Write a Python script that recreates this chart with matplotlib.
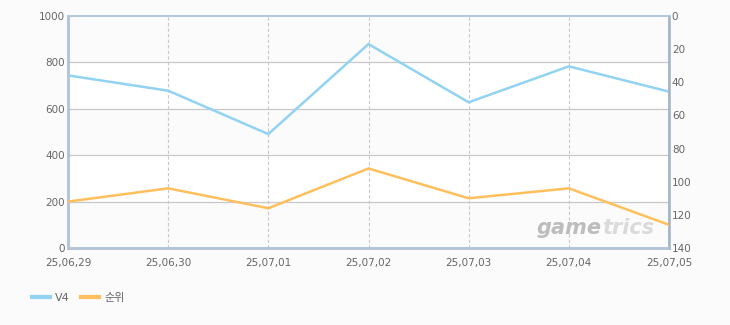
import matplotlib.pyplot as plt
from matplotlib.lines import Line2D

dates = ['25,06,29', '25,06,30', '25,07,01', '25,07,02', '25,07,03', '25,07,04', '25,07,05']
v4 = [744, 678, 491, 879, 628, 783, 674]
rank = [112, 104, 116, 92, 110, 104, 126]

left_ticks = [0, 200, 400, 600, 800, 1000]
right_ticks = [0, 20, 40, 60, 80, 100, 120, 140]

blue = '#92d2f2'
orange = '#ffbf5c'
text_c = '#666666'
grid_c = '#c8c8c8'

plt.rcParams['font.family'] = ['DejaVu Sans', 'Noto Sans CJK KR']

fig = plt.figure(figsize=(7.3, 3.25), dpi=100)
fig.patch.set_facecolor('#fbfbfb')
ax = fig.add_axes([68 / 730, 1 - 248 / 325, 601 / 730, 232 / 325])
ax.set_facecolor('#fbfbfb')

x = list(range(len(dates)))

# alternating bands
for i in range(len(left_ticks) - 1):
    if i % 2 == 1:
        ax.axhspan(left_ticks[i], left_ticks[i + 1], color='white', zorder=0)

for t in left_ticks[1:-1]:
    ax.axhline(t, color=grid_c, lw=0.9, zorder=1)
for xi in x[1:-1]:
    ax.axvline(xi, color=grid_c, lw=0.8, ls=(0, (3, 2)), zorder=1)

ax.plot(x, v4, color=blue, lw=1.8, zorder=3, solid_joinstyle='miter')
ax.set_xlim(0, len(dates) - 1)
ax.set_ylim(0, 1000)
ax.set_yticks(left_ticks)
ax.set_xticks(x)
ax.set_xticklabels(dates)

ax2 = ax.twinx()
ax2.plot(x, rank, color=orange, lw=1.8, zorder=3, solid_joinstyle='miter')
ax2.set_ylim(140, 0)
ax2.set_yticks(right_ticks)

for a in (ax, ax2):
    a.tick_params(length=0, labelsize=7.5, labelcolor=text_c, pad=2)
    for s in a.spines.values():
        s.set_color('#b4c8dc')
        s.set_linewidth(1.2)
ax.tick_params(axis='x', pad=7)
ax.spines['left'].set_color('#a4b4c8')
ax.spines['bottom'].set_color('#a4b4c8')
ax.spines['left'].set_linewidth(1.8)
ax.spines['bottom'].set_linewidth(1.8)
ax2.spines['right'].set_linewidth(1.8)
ax2.spines['right'].set_color('#a4b4c8')

# watermark
ax.text(0.888, 0.045, 'game', transform=ax.transAxes, fontsize=15, style='italic',
        weight='bold', color='#bdbdbd', ha='right', va='bottom', zorder=2)
ax.text(0.888, 0.045, 'trics', transform=ax.transAxes, fontsize=15, style='italic',
        weight='bold', color='#dadada', ha='left', va='bottom', zorder=2)

# legend
handles = [Line2D([], [], color=blue, lw=3), Line2D([], [], color=orange, lw=3)]
fig.legend(handles, ['V4', '순위'], loc='center left', bbox_to_anchor=(22 / 730, 1 - 298 / 325),
           ncol=2, frameon=False, fontsize=8, handlelength=1.6, handletextpad=0.5,
           columnspacing=1.0, labelcolor=text_c)

fig.savefig('out.png', dpi=100, facecolor=fig.get_facecolor())
